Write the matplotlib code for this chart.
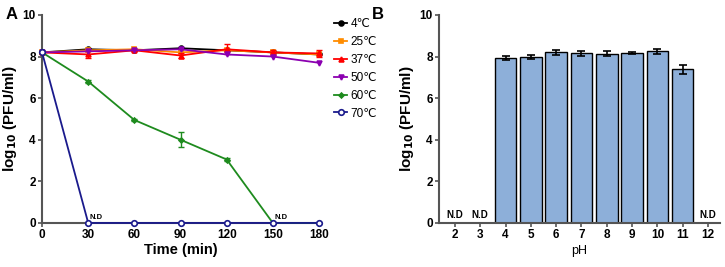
import matplotlib
matplotlib.use('Agg')
import matplotlib.pyplot as plt
import numpy as np

plt.rcParams['font.family'] = ['Liberation Sans', 'DejaVu Sans']
plt.rcParams['font.weight'] = 'bold'
plt.rcParams['mathtext.default'] = 'bf'

# Panel A: thermal stability
time_min = [0, 30, 60, 90, 120, 150, 180]
temp_labels = ['4℃', '25℃', '37℃', '50℃', '60℃', '70℃']
t4 = [8.2, 8.35, 8.3, 8.4, 8.3, 8.2, 8.1]
t25 = [8.2, 8.3, 8.35, 8.2, 8.3, 8.2, 8.1]
t37 = [8.2, 8.1, 8.3, 8.05, 8.35, 8.2, 8.15]
t50 = [8.2, 8.25, 8.3, 8.35, 8.1, 8.0, 7.7]
t60 = [8.2, 6.8, 4.95, 4.0, 3.05, 0, 0]
t70 = [8.2, 0, 0, 0, 0, 0, 0]
t37_err = [0.05, 0.15, 0.05, 0.1, 0.25, 0.12, 0.15]
t60_err = [0.05, 0.05, 0.05, 0.35, 0.05, 0, 0]

# Panel B: pH stability
ph = [2, 3, 4, 5, 6, 7, 8, 9, 10, 11, 12]
ph_val = [0, 0, 7.92, 7.97, 8.2, 8.15, 8.13, 8.17, 8.25, 7.38, 0]
ph_err = [0, 0, 0.1, 0.1, 0.12, 0.12, 0.12, 0.03, 0.12, 0.2, 0]
nd_ph = [2, 3, 12]

fig = plt.figure(figsize=(7.25, 2.67), dpi=100)
axA = fig.add_axes([0.058, 0.165, 0.382, 0.779])
axB = fig.add_axes([0.6055, 0.165, 0.3875, 0.779])

def style(ax):
    for s in ['top', 'right']:
        ax.spines[s].set_visible(False)
    for s in ['left', 'bottom']:
        ax.spines[s].set_linewidth(1.5)
        ax.spines[s].set_color('#555555')
    ax.tick_params(width=1.2, length=3, color='#555555', labelsize=8.5, pad=1.5)
    ax.set_ylim(0, 10)
    ax.set_yticks([0, 2, 4, 6, 8, 10])
    ax.set_ylabel('log$_{10}$ (PFU/ml)', fontsize=11, fontweight='bold', labelpad=2.5)

series = [
    (t4, None, '#000000', 'o', True, 3.5),
    (t25, None, '#FF8C00', 's', True, 3.5),
    (t37, t37_err, '#FF0000', '^', True, 3.5),
    (t50, None, '#8B00B0', 'v', True, 3.5),
    (t60, t60_err, '#1E8B1E', 'D', True, 2.5),
    (t70, None, '#1A1A8C', 'o', False, 4),
]
for (vals, err, col, mk, filled, ms), lab in zip(series, temp_labels):
    if err is not None:
        axA.errorbar(time_min, vals, yerr=err, fmt='none', ecolor=col, capsize=2,
                     elinewidth=1, clip_on=False, zorder=3)
    axA.plot(time_min, vals, color=col, marker=mk, markersize=ms,
             markerfacecolor=col if filled else 'white', markeredgewidth=1.2,
             lw=1.3, label=lab, clip_on=False, zorder=3)
axA.set_xlim(0, 180)
axA.set_xticks(time_min)
axA.set_xlabel('Time (min)', fontsize=10.5, fontweight='bold', labelpad=1)
style(axA)
axA.text(31, 0.2, 'N.D', fontsize=5.5, fontweight='bold')
axA.text(151, 0.2, 'N.D', fontsize=5.5, fontweight='bold')
axA.legend(loc='upper left', bbox_to_anchor=(1.055, 0.985), frameon=False,
           prop={'size': 8.5, 'weight': 'normal'}, borderpad=0,
           handlelength=1.1, handletextpad=0.3, labelspacing=0.5, borderaxespad=0)

axB.bar(ph, ph_val, width=0.85, color='#8DAFD9', edgecolor='black', linewidth=1,
        yerr=ph_err, capsize=3, error_kw=dict(elinewidth=1.2, capthick=1.2), zorder=2)
for p in nd_ph:
    axB.text(p, 0.15, 'N.D', ha='center', va='bottom', fontsize=7, fontweight='bold')
axB.set_xlim(1.37, 12.47)
axB.set_xticks(ph)
axB.set_xlabel('pH', fontsize=9, fontweight='normal', labelpad=3)
style(axB)

fig.text(0.008, 0.975, 'A', fontsize=12, fontweight='bold', va='top')
fig.text(0.513, 0.975, 'B', fontsize=12, fontweight='bold', va='top')

fig.savefig('out.png', dpi=100)
